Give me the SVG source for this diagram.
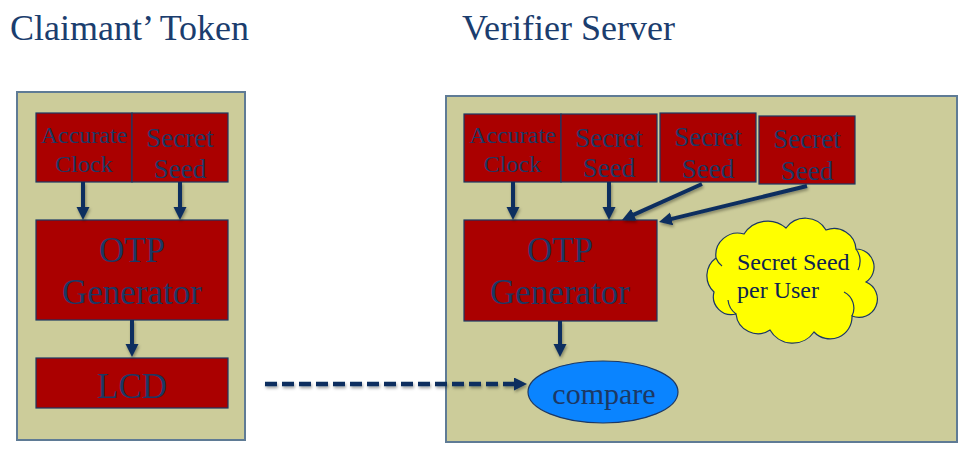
<svg xmlns="http://www.w3.org/2000/svg" width="969" height="456" viewBox="0 0 969 456">
<style>
text{font-family:'Liberation Serif','DejaVu Serif',serif}
.title{font-size:36px;fill:#1b3d6e}
.panel{fill:#cccc9a;stroke:#5f7b95;stroke-width:2}
.box{fill:#aa0000;stroke:#1c3864;stroke-width:1.2}
.bt{fill:#1c3864;text-anchor:middle}
.s24{font-size:24px}
.s27{font-size:27px}
.s35{font-size:35px}
.arr{stroke:#0f2f5f;stroke-width:4;fill:none;marker-end:url(#ah)}
.dash{stroke-dasharray:12 5;stroke-width:4.5}
.ct{font-size:24px;fill:#0d2350}
</style>
<defs>
<marker id="ah" markerUnits="userSpaceOnUse" markerWidth="14" markerHeight="14" refX="3" refY="6.5" orient="auto">
<path d="M0,0 L13,6.5 L0,13 z" fill="#0f2f5f"/>
</marker>
<filter id="sh" filterUnits="userSpaceOnUse" x="0" y="0" width="969" height="456">
<feDropShadow dx="1" dy="2" stdDeviation="1.5" flood-color="#000" flood-opacity="0.35"/>
</filter>
</defs>

<text class="title" x="10" y="40">Claimant’ Token</text>
<text class="title" x="462" y="40">Verifier Server</text>

<g id="token-panel"><rect class="panel" x="17" y="92" width="228" height="348"/></g>
<g id="server-panel"><rect class="panel" x="446" y="96" width="511" height="346"/></g>

<g id="t-clock"><rect class="box" x="36" y="113" width="96" height="69"/>
<text class="bt s24" x="84" y="143">Accurate</text><text class="bt s24" x="84" y="172">Clock</text></g>
<g id="t-seed"><rect class="box" x="132" y="113" width="96" height="69"/>
<text class="bt s27" x="180" y="147">Secret</text><text class="bt s27" x="180" y="178">Seed</text></g>
<g id="t-otp"><rect class="box" x="36" y="220" width="192" height="100"/>
<text class="bt s35" x="132" y="262">OTP</text><text class="bt s35" x="132" y="304">Generator</text></g>
<g id="t-lcd"><rect class="box" x="36" y="358" width="192" height="50"/>
<text class="bt s35" x="132" y="398">LCD</text></g>

<g id="s-clock"><rect class="box" x="464" y="114" width="97" height="68"/>
<text class="bt s24" x="512.5" y="143">Accurate</text><text class="bt s24" x="512.5" y="172">Clock</text></g>
<g id="s-seed1"><rect class="box" x="561" y="114" width="96" height="68"/>
<text class="bt s27" x="609" y="147">Secret</text><text class="bt s27" x="609" y="177">Seed</text></g>
<g id="s-seed2"><rect class="box" x="660" y="113" width="96" height="69"/>
<text class="bt s27" x="708" y="146">Secret</text><text class="bt s27" x="708" y="178">Seed</text></g>
<g id="s-seed3"><rect class="box" x="759" y="116" width="96" height="68"/>
<text class="bt s27" x="807" y="148">Secret</text><text class="bt s27" x="807" y="180">Seed</text></g>
<g id="s-otp"><rect class="box" x="464" y="220" width="193" height="101"/>
<text class="bt s35" x="560" y="262">OTP</text><text class="bt s35" x="560" y="304">Generator</text></g>

<g id="cloud">
<path d="M716,258 A22,22 0 0 1 744,234 A28,28 0 0 1 786,228 A24,24 0 0 1 826,230 A22,22 0 0 1 856,249 A18,18 0 0 1 866,282 A18,18 0 0 1 852,316 A22,22 0 0 1 814,332 A26,26 0 0 1 770,330 A22,22 0 0 1 736,314 A18,18 0 0 1 714,292 A22,22 0 0 1 716,258 Z" fill="#ffff00" stroke="#1c3864" stroke-width="1.2"/>
<path d="M856,249 A20,20 0 0 1 858,270 M852,316 A18,18 0 0 0 844,292 M736,314 A20,20 0 0 1 728,300 M716,258 A18,18 0 0 0 722,266" fill="none" stroke="#1c3864" stroke-width="1.2"/>
<text class="ct" x="737" y="270">Secret Seed</text><text class="ct" x="737" y="298">per User</text>
</g>

<g id="compare">
<ellipse cx="603" cy="392" rx="75" ry="31" fill="#0a84ff" stroke="#1c3864" stroke-width="1.2"/>
<text class="bt" style="font-size:30px" x="604" y="404">compare</text>
</g>

<g id="connectors" filter="url(#sh)">
<line class="arr" x1="83" y1="182" x2="83" y2="210"/>
<line class="arr" x1="180" y1="182" x2="180" y2="210"/>
<line class="arr" x1="132" y1="320" x2="132" y2="347"/>
<line class="arr" x1="513" y1="182" x2="513" y2="210"/>
<line class="arr" x1="609" y1="182" x2="609" y2="210"/>
<line class="arr" x1="702" y1="184" x2="631.1" y2="215.9"/>
<line class="arr" x1="807" y1="186" x2="668.7" y2="219.6"/>
<line class="arr" x1="560" y1="321" x2="560" y2="347"/>
<line class="arr dash" x1="265" y1="384" x2="517" y2="384"/>
</g>
</svg>
